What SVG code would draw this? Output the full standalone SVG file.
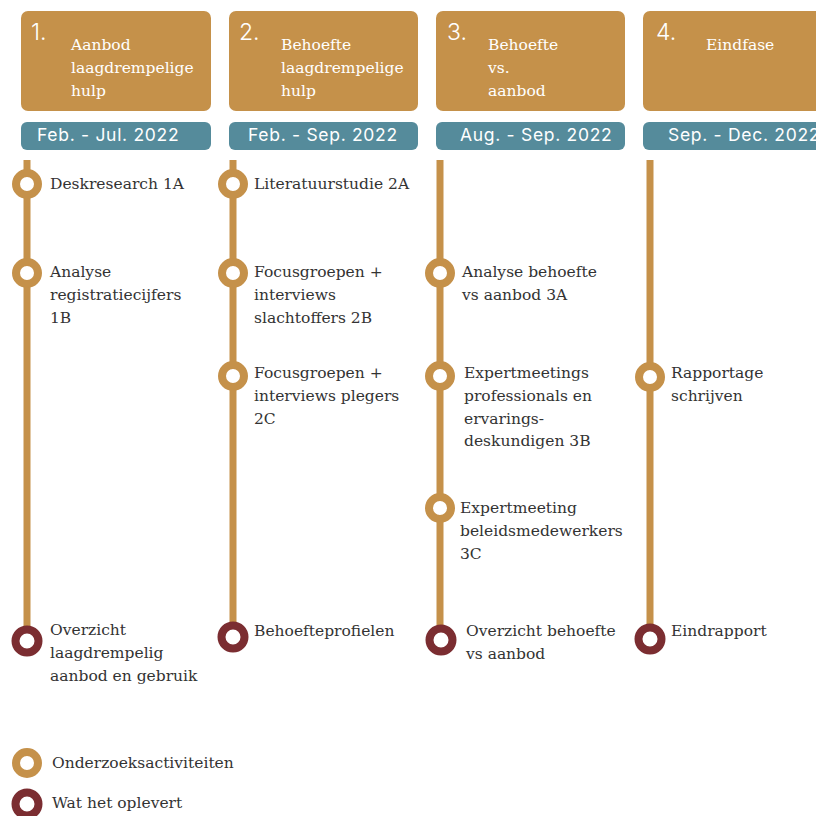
<svg xmlns="http://www.w3.org/2000/svg" width="816" height="816" viewBox="0 0 816 816">
<style>
.hdr{fill:#C5914A}
.date{fill:#558B9B}
.num{font-family:Inter,"Open Sans",sans-serif;font-size:23px;font-weight:300;fill:#fff}
.ttl{font-family:"DejaVu Serif",serif;font-size:15.5px;fill:#fff}
.dt{font-family:Inter,"Open Sans",sans-serif;font-size:17.5px;font-weight:400;letter-spacing:0.7px;fill:#fff}
.lbl{font-family:"DejaVu Serif",serif;font-size:15.5px;fill:#333}
.line{stroke:#C5914A;stroke-width:7;fill:none}
.act{fill:#fff;stroke:#C5914A;stroke-width:8}
.res{fill:#fff;stroke:#7B2D31;stroke-width:8}
</style>
<rect width="816" height="816" fill="#fff"/>
<g id="connectors">
<line class="line" x1="27" y1="160" x2="27" y2="640"/>
<line class="line" x1="233" y1="160" x2="233" y2="636"/>
<line class="line" x1="440" y1="160" x2="440" y2="638"/>
<line class="line" x1="650" y1="160" x2="650" y2="637"/>
</g>
<g id="phase1">
<rect class="hdr" x="21" y="11" width="190" height="100" rx="7"/>
<text class="num" x="31" y="40">1.</text>
<text class="ttl" x="71" y="50">Aanbod</text>
<text class="ttl" x="71" y="73">laagdrempelige</text>
<text class="ttl" x="71" y="96">hulp</text>
<rect class="date" x="21" y="122" width="190" height="28" rx="6"/>
<text class="dt" x="37" y="141">Feb. - Jul. 2022</text>
</g>
<g id="phase2">
<rect class="hdr" x="229" y="11" width="189" height="100" rx="7"/>
<text class="num" x="239" y="40">2.</text>
<text class="ttl" x="281" y="50">Behoefte</text>
<text class="ttl" x="281" y="73">laagdrempelige</text>
<text class="ttl" x="281" y="96">hulp</text>
<rect class="date" x="229" y="122" width="189" height="28" rx="6"/>
<text class="dt" x="248" y="141">Feb. - Sep. 2022</text>
</g>
<g id="phase3">
<rect class="hdr" x="436" y="11" width="189" height="100" rx="7"/>
<text class="num" x="447" y="40">3.</text>
<text class="ttl" x="488" y="50">Behoefte</text>
<text class="ttl" x="488" y="73">vs.</text>
<text class="ttl" x="488" y="96">aanbod</text>
<rect class="date" x="436" y="122" width="189" height="28" rx="6"/>
<text class="dt" x="460" y="141">Aug. - Sep. 2022</text>
</g>
<g id="phase4">
<rect class="hdr" x="643" y="11" width="190" height="100" rx="7"/>
<text class="num" x="656" y="40">4.</text>
<text class="ttl" x="706" y="50">Eindfase</text>
<rect class="date" x="643" y="122" width="190" height="28" rx="6"/>
<text class="dt" x="668" y="141">Sep. - Dec. 2022</text>
</g>
<g id="n1a"><circle class="act" cx="27" cy="184" r="11"/><text class="lbl" x="50" y="189">Deskresearch 1A</text></g>
<g id="n1b"><circle class="act" cx="27" cy="273" r="11"/><text class="lbl" x="50" y="277">Analyse</text><text class="lbl" x="50" y="300">registratiecijfers</text><text class="lbl" x="50" y="323">1B</text></g>
<g id="r1"><circle class="res" cx="27" cy="641" r="11.5"/><text class="lbl" x="50" y="635">Overzicht</text><text class="lbl" x="50" y="658">laagdrempelig</text><text class="lbl" x="50" y="681">aanbod en gebruik</text></g>
<g id="n2a"><circle class="act" cx="233" cy="184" r="11"/><text class="lbl" x="254" y="189">Literatuurstudie 2A</text></g>
<g id="n2b"><circle class="act" cx="233" cy="273" r="11"/><text class="lbl" x="254" y="277">Focusgroepen +</text><text class="lbl" x="254" y="300">interviews</text><text class="lbl" x="254" y="323">slachtoffers 2B</text></g>
<g id="n2c"><circle class="act" cx="233" cy="376" r="11"/><text class="lbl" x="254" y="378">Focusgroepen +</text><text class="lbl" x="254" y="401">interviews plegers</text><text class="lbl" x="254" y="424">2C</text></g>
<g id="r2"><circle class="res" cx="233" cy="637" r="11.5"/><text class="lbl" x="254" y="636">Behoefteprofielen</text></g>
<g id="n3a"><circle class="act" cx="440" cy="273" r="11"/><text class="lbl" x="462" y="277">Analyse behoefte</text><text class="lbl" x="462" y="300">vs aanbod 3A</text></g>
<g id="n3b"><circle class="act" cx="440" cy="376" r="11"/><text class="lbl" x="464" y="378">Expertmeetings</text><text class="lbl" x="464" y="401">professionals en</text><text class="lbl" x="464" y="424">ervarings-</text><text class="lbl" x="464" y="446">deskundigen 3B</text></g>
<g id="n3c"><circle class="act" cx="440" cy="508" r="11"/><text class="lbl" x="460" y="513">Expertmeeting</text><text class="lbl" x="460" y="536">beleidsmedewerkers</text><text class="lbl" x="460" y="559">3C</text></g>
<g id="r3"><circle class="res" cx="441" cy="640" r="11.5"/><text class="lbl" x="466" y="636">Overzicht behoefte</text><text class="lbl" x="466" y="659">vs aanbod</text></g>
<g id="n4a"><circle class="act" cx="650" cy="377" r="11"/><text class="lbl" x="671" y="378">Rapportage</text><text class="lbl" x="671" y="401">schrijven</text></g>
<g id="r4"><circle class="res" cx="650" cy="639" r="11.5"/><text class="lbl" x="671" y="636">Eindrapport</text></g>
<g id="legend">
<circle class="act" cx="27" cy="763" r="11"/><text class="lbl" x="52" y="768">Onderzoeksactiviteiten</text>
<circle class="res" cx="27" cy="804" r="11.5"/><text class="lbl" x="52" y="808">Wat het oplevert</text>
</g>
</svg>
